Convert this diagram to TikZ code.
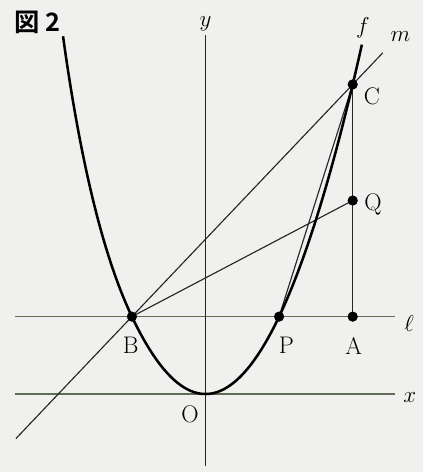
\documentclass[tikz,border=0pt]{standalone}
\usepackage{fontspec}
\newfontfamily\jpfont{Noto Sans CJK JP}[BoldFont={* Bold}]
\begin{document}
\begin{tikzpicture}[x=27.6pt,y=14.51pt,
  thinline/.style={line width=0.85pt,black!85},
  greenline/.style={line width=1.1pt,draw={rgb,255:red,95;green,110;blue,85}},
  curveline/.style={line width=1.9pt,black},
  dot/.style={circle,fill=black,inner sep=0pt,minimum size=7.5pt},
  lab/.style={font=\fontsize{18}{20}\selectfont,inner sep=1pt},
  mlab/.style={font=\fontsize{18}{20}\selectfont,inner sep=1pt}]
\useasboundingbox[fill={rgb,255:red,240;green,240;blue,238}] (-154.125pt,-58.5pt) rectangle (163.125pt,295.5pt);
% axes and line l
\coordinate (xl) at (-5.18,0);
\coordinate (xr) at (5.15,0);
\coordinate (yb) at (0,-3.72);
\coordinate (yt) at (0,18.55);
\coordinate (ll) at (-5.18,4);
\coordinate (lr) at (5.15,4);
\draw[greenline] (xl) -- (xr);
\draw[greenline] (ll) -- (lr);
\draw[thinline] (yb) -- (yt);
% points
\node[dot] (B) at (-2,4) {};
\node[dot] (P) at (2,4) {};
\node[dot] (A) at (4,4) {};
\node[dot] (C) at (4,16) {};
\node[dot] (Q) at (4,10) {};
\coordinate (O) at (0,0);
% line m
\coordinate (m1) at (-5.15,-2.3);
\coordinate (m2) at (4.82,17.64);
\draw[thinline] (m1) -- (B.center) -- (C.center) -- (m2);
% segments
\draw[thinline] (C.center) -- (A.center);
\draw[thinline] (B.center) -- (Q.center);
\draw[thinline] (P.center) -- (C.center);
% parabola f
\draw[curveline,line join=round,domain=-4.3:-2,samples=50,smooth] plot ({\x+0.081*(\x+2)*(\x+2)},{\x*\x});
\draw[curveline,line join=round,domain=-2:4.25,samples=100,smooth] plot (\x,{\x*\x});
% redraw dots on top
\foreach \p in {B,P,A,C,Q} \fill (\p) circle (3.7pt);
% labels
\node[lab] (Bl) at (-2.03,2.5) {B};
\node[lab] (Pl) at (2.2,2.5) {P};
\node[lab] (Al) at (4.03,2.5) {A};
\node[lab] (Ol) at (-0.42,-1.05) {O};
\node[lab] (Cl) at (4.52,15.4) {C};
\node[lab] (Ql) at (4.55,9.8) {Q};
\node[mlab] (xlab) at (5.55,-0.2) {$x$};
\node[mlab] (ylab) at (0,19.15) {$y$};
\node[mlab] (llab) at (5.53,3.65) {$\ell$};
\node[mlab] (mlab) at (5.3,18.5) {$m$};
\node[mlab] (flab) at (4.28,18.95) {$f$};
\node[font=\jpfont\bfseries\fontsize{19}{21}\selectfont,anchor=west,inner sep=0pt] (fig) at (-154.125pt+10.5pt,295.5pt-16.5pt) {図 2};
\end{tikzpicture}
\end{document}
